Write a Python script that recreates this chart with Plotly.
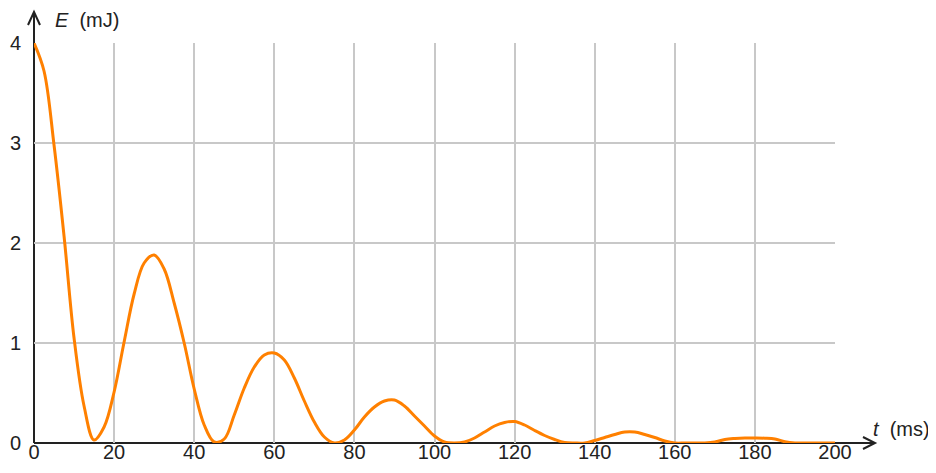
import plotly.graph_objects as go

# time (ms) and energy (mJ)
t_ms = [0, 2.5, 5, 7.5, 10, 12.5, 15, 17.5, 20, 22.5, 25, 27.5, 30, 32.5, 35, 37.5,
        40, 42.5, 45, 47.5, 50, 52.5, 55, 57.5, 60, 62.5, 65, 67.5, 70, 72.5, 75,
        77.5, 80, 82.5, 85, 87.5, 90, 92.5, 95, 97.5, 100, 102.5, 105, 107.5, 110,
        112.5, 115, 117.5, 120, 122.5, 125, 127.5, 130, 132.5, 135, 137.5, 140,
        142.5, 145, 147.5, 150, 152.5, 155, 157.5, 160, 162.5, 165, 167.5, 170,
        172.5, 175, 177.5, 180, 182.5, 185, 187.5, 190, 192.5, 195, 197.5, 200]
e_mj = [4.00, 3.72, 2.98, 2.07, 1.05, 0.37, 0.03, 0.16, 0.51, 1.01, 1.49, 1.80, 1.88,
        1.74, 1.40, 1.00, 0.54, 0.18, 0.01, 0.04, 0.28, 0.55, 0.76, 0.88, 0.90, 0.83,
        0.65, 0.42, 0.21, 0.06, 0.00, 0.03, 0.13, 0.26, 0.36, 0.42, 0.43, 0.37, 0.27,
        0.17, 0.07, 0.01, 0.00, 0.01, 0.05, 0.11, 0.17, 0.205, 0.215, 0.18, 0.125,
        0.075, 0.035, 0.005, 0.00, 0.00, 0.025, 0.055, 0.085, 0.11, 0.11, 0.085,
        0.055, 0.02, 0.00, 0.00, 0.00, 0.00, 0.01, 0.035, 0.045, 0.05, 0.05,
        0.048, 0.04, 0.012, 0.00, 0.00, 0.00, 0.00, 0.00]

x_ticks = [0, 20, 40, 60, 80, 100, 120, 140, 160, 180, 200]
y_ticks = [0, 1, 2, 3, 4]

FONT = "Liberation Sans, Arial, sans-serif"
AX = "#222222"

# the page body has an 8px margin, so layout is computed in window pixels and shifted
OFF = 8
W, H = 936, 473
ML, MT = 34 - OFF, 43 - OFF
PW, PH = 801, 400
MR, MB = W - ML - PW, H - MT - PH


def px(xp):
    return (xp - OFF - ML) / PW


def py(yp):
    return (MT + PH - (yp - OFF)) / PH


def axis_line(x0, y0, x1, y1):
    return dict(type="line", xref="paper", yref="paper", x0=px(x0), y0=py(y0),
                x1=px(x1), y1=py(y1), layer="between",
                line=dict(color=AX, width=2))


def chevron(points):
    path = "M " + " L ".join(f"{px(a):.5f},{py(b):.5f}" for a, b in points)
    return dict(type="path", xref="paper", yref="paper", path=path, layer="between",
                line=dict(color=AX, width=2))


fig = go.Figure()
fig.add_trace(go.Scatter(x=t_ms, y=e_mj, mode="lines",
                         line=dict(color="#ff8000", width=3, shape="spline", smoothing=1.0),
                         hoverinfo="skip", showlegend=False))

X0W, Y0W = 34, 443  # window pixels of the origin
fig.update_layout(
    width=W, height=H,
    margin=dict(l=ML, r=MR, t=MT, b=MB, autoexpand=False),
    paper_bgcolor="white", plot_bgcolor="white",
    font=dict(family=FONT, size=20, color=AX),
    xaxis=dict(range=[0, 200], tickvals=x_ticks, showgrid=True, gridcolor="#c8c8c8",
               gridwidth=1.5, zeroline=False, showline=False, automargin=False,
               ticks="", ticklabelstandoff=-5, fixedrange=True),
    yaxis=dict(range=[0, 4], tickvals=y_ticks, showgrid=True, gridcolor="#c8c8c8",
               gridwidth=1.5, zeroline=False, showline=False, automargin=False,
               ticks="outside", ticklen=8, tickcolor="rgba(0,0,0,0)", fixedrange=True),
    shapes=[
        axis_line(X0W, Y0W, 875, Y0W),
        chevron([(863, Y0W - 6), (875, Y0W), (863, Y0W + 6)]),
        axis_line(X0W, Y0W, X0W, 12),
        chevron([(X0W - 6, 25), (X0W, 12), (X0W + 6, 25)]),
    ],
    annotations=[
        dict(text="<i>E</i>  (mJ)", xref="paper", yref="paper", x=px(53), y=py(20),
             xanchor="left", yanchor="middle", showarrow=False,
             font=dict(family=FONT, size=20, color=AX)),
        dict(text="<i>t</i>  (ms)", xref="paper", yref="paper", x=px(871), y=py(429),
             xanchor="left", yanchor="middle", showarrow=False,
             font=dict(family=FONT, size=20, color=AX)),
    ],
)

fig.write_html("out.html", config={"displayModeBar": False})
